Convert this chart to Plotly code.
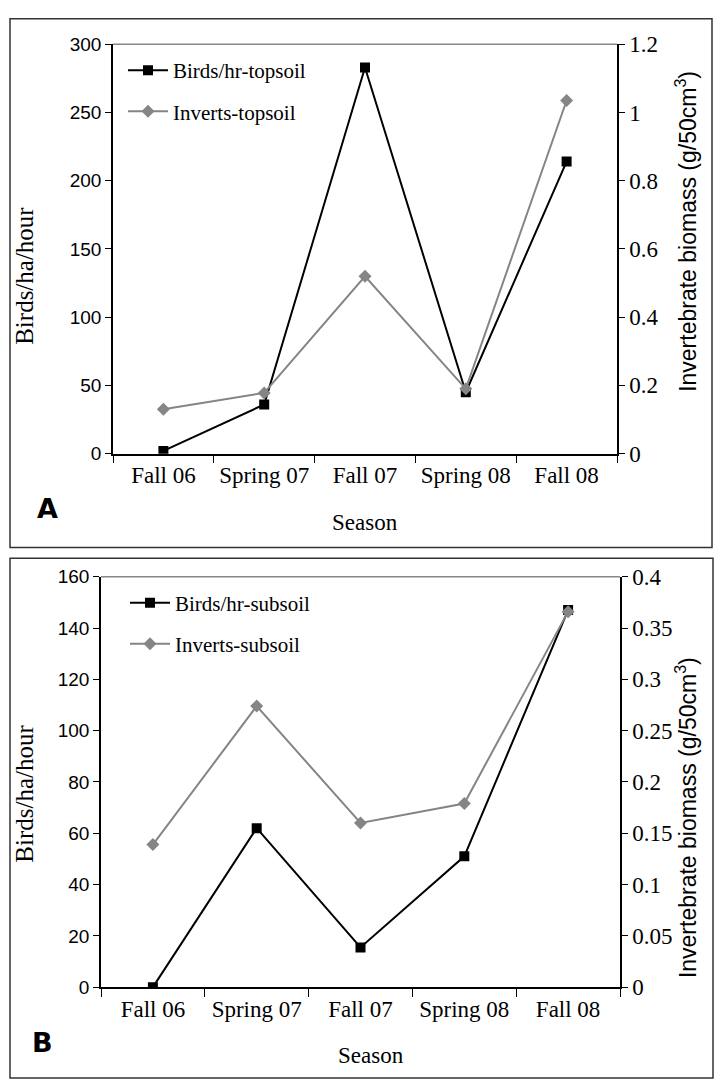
import plotly.graph_objects as go

seasons = ["Fall 06", "Spring 07", "Fall 07", "Spring 08", "Fall 08"]

birds_top = [2, 36, 283, 45, 214]
inverts_top = [0.13, 0.178, 0.52, 0.19, 1.035]

birds_sub = [0, 62, 15.5, 51, 147]
inverts_sub = [0.139, 0.274, 0.16, 0.179, 0.366]

left_ticks_a = [0, 50, 100, 150, 200, 250, 300]
right_ticks_a = [0, 0.2, 0.4, 0.6, 0.8, 1, 1.2]
right_text_a = ["0", "0.2", "0.4", "0.6", "0.8", "1", "1.2"]
left_ticks_b = [0, 20, 40, 60, 80, 100, 120, 140, 160]
right_ticks_b = [0, 0.05, 0.1, 0.15, 0.2, 0.25, 0.3, 0.35, 0.4]
right_text_b = ["0", "0.05", "0.1", "0.15", "0.2", "0.25", "0.3", "0.35", "0.4"]

W, H = 715, 1092
SERIF = "Liberation Serif, Times New Roman, serif"
SANS = "Liberation Sans, Arial, sans-serif"
GRAY = "#858585"

def px(x):
    return x / W

def py(y):
    return 1 - y / H

fig = go.Figure()

fig.add_trace(go.Scatter(x=seasons, y=birds_top, name="Birds/hr-topsoil", xaxis="x", yaxis="y",
                         mode="lines+markers", line=dict(color="black", width=2),
                         marker=dict(symbol="square", size=10, color="black"), legend="legend"))
fig.add_trace(go.Scatter(x=seasons, y=inverts_top, name="Inverts-topsoil", xaxis="x", yaxis="y2",
                         mode="lines+markers", line=dict(color=GRAY, width=2),
                         marker=dict(symbol="diamond", size=10, color=GRAY), legend="legend2"))
fig.add_trace(go.Scatter(x=seasons, y=birds_sub, name="Birds/hr-subsoil", xaxis="x2", yaxis="y3",
                         mode="lines+markers", line=dict(color="black", width=2),
                         marker=dict(symbol="square", size=10, color="black"), legend="legend3"))
fig.add_trace(go.Scatter(x=seasons, y=inverts_sub, name="Inverts-subsoil", xaxis="x2", yaxis="y4",
                         mode="lines+markers", line=dict(color=GRAY, width=2),
                         marker=dict(symbol="diamond", size=10, color=GRAY), legend="legend4"))

domA_x = [px(113), px(617)]
domA_y = [py(452), py(33)]
domB_x = [px(101), px(620)]
domB_y = [py(998), py(578)]

def xax(domain, anchor):
    return dict(type="category", tickson="boundaries", ticks="outside", ticklen=8, tickcolor="black",
                showline=True, linecolor="black", linewidth=1.5, showgrid=False, zeroline=False,
                tickfont=dict(family=SERIF, size=23, color="black"), range=[-0.5, 4.5],
                domain=domain, anchor=anchor)

def yleft(domain, anchor, rng, tv):
    return dict(ticks="outside", ticklen=6, tickcolor="black", showline=True, linecolor="black",
                linewidth=1.5, showgrid=False, zeroline=False,
                tickfont=dict(family=SANS, size=19, color="black"),
                domain=domain, anchor=anchor, range=rng, tickvals=tv)

def yright(over, anchor, rng, tv, tt):
    return dict(ticks="outside", ticklen=6, tickcolor="black", showline=True, linecolor="black",
                linewidth=1.5, showgrid=False, zeroline=False, side="right",
                tickfont=dict(family=SERIF, size=23, color="black"),
                overlaying=over, anchor=anchor, range=rng, tickvals=tv, ticktext=tt,
                tickmode="array")

def leg(x, y):
    return dict(x=px(x), y=py(y), xanchor="left", yanchor="middle", bgcolor="rgba(0,0,0,0)",
                font=dict(family=SERIF, size=21, color="black"), itemwidth=40)

fig.update_layout(
    width=W, height=H, autosize=False,
    margin=dict(l=0, r=0, t=0, b=0),
    paper_bgcolor="white", plot_bgcolor="white",
    xaxis=xax(domA_x, "y"),
    yaxis=yleft(domA_y, "x", [0, 300], left_ticks_a),
    yaxis2=yright("y", "x", [0, 1.2], right_ticks_a, right_text_a),
    xaxis2=xax(domB_x, "y3"),
    yaxis3=yleft(domB_y, "x2", [0, 160], left_ticks_b),
    yaxis4=yright("y3", "x2", [0, 0.4], right_ticks_b, right_text_b),
    legend=leg(123, 60),
    legend2=leg(123, 102),
    legend3=leg(125, 605),
    legend4=leg(125, 647),
    showlegend=True,
)

shapes = [
    dict(type="rect", xref="paper", yref="paper", x0=px(10), x1=px(712), y0=py(548), y1=py(7),
         line=dict(color="#333333", width=1.5)),
    dict(type="rect", xref="paper", yref="paper", x0=px(10), x1=px(713), y0=py(1091), y1=py(559),
         line=dict(color="#333333", width=1.5)),
    dict(type="line", xref="x domain", yref="y domain", x0=0, x1=1, y0=1, y1=1,
         line=dict(color="#888888", width=1.5)),
    dict(type="line", xref="x2 domain", yref="y3 domain", x0=0, x1=1, y0=1, y1=1,
         line=dict(color="#888888", width=1.5)),
]
fig.update_layout(shapes=shapes)

ann = []
def label(text, x, y, size=23, family=SERIF, angle=0):
    ann.append(dict(text=text, x=px(x), y=py(y), xref="paper", yref="paper", showarrow=False,
                    xanchor="center", yanchor="middle", textangle=angle,
                    font=dict(family=family, size=size, color="black")))

label("Season", 365, 522)
label("Season", 371, 1068)
label("Birds/ha/hour", 25, 270, size=25, angle=-90)
label("Birds/ha/hour", 25, 800, size=25, angle=-90)
label("Invertebrate biomass (g/50cm<sup>3</sup>)", 686, 225, size=23, family=SANS, angle=-90)
label("Invertebrate biomass (g/50cm<sup>3</sup>)", 686, 825, size=23, family=SANS, angle=-90)
label("<b>A</b>", 47, 508, size=27, family="DejaVu Sans")
label("<b>B</b>", 42, 1055, size=27, family="DejaVu Sans")
fig.update_layout(annotations=ann)

fig.write_html("out.html", config={"displayModeBar": False},
               post_script="document.body.style.margin='0';document.body.style.overflow='hidden';")
